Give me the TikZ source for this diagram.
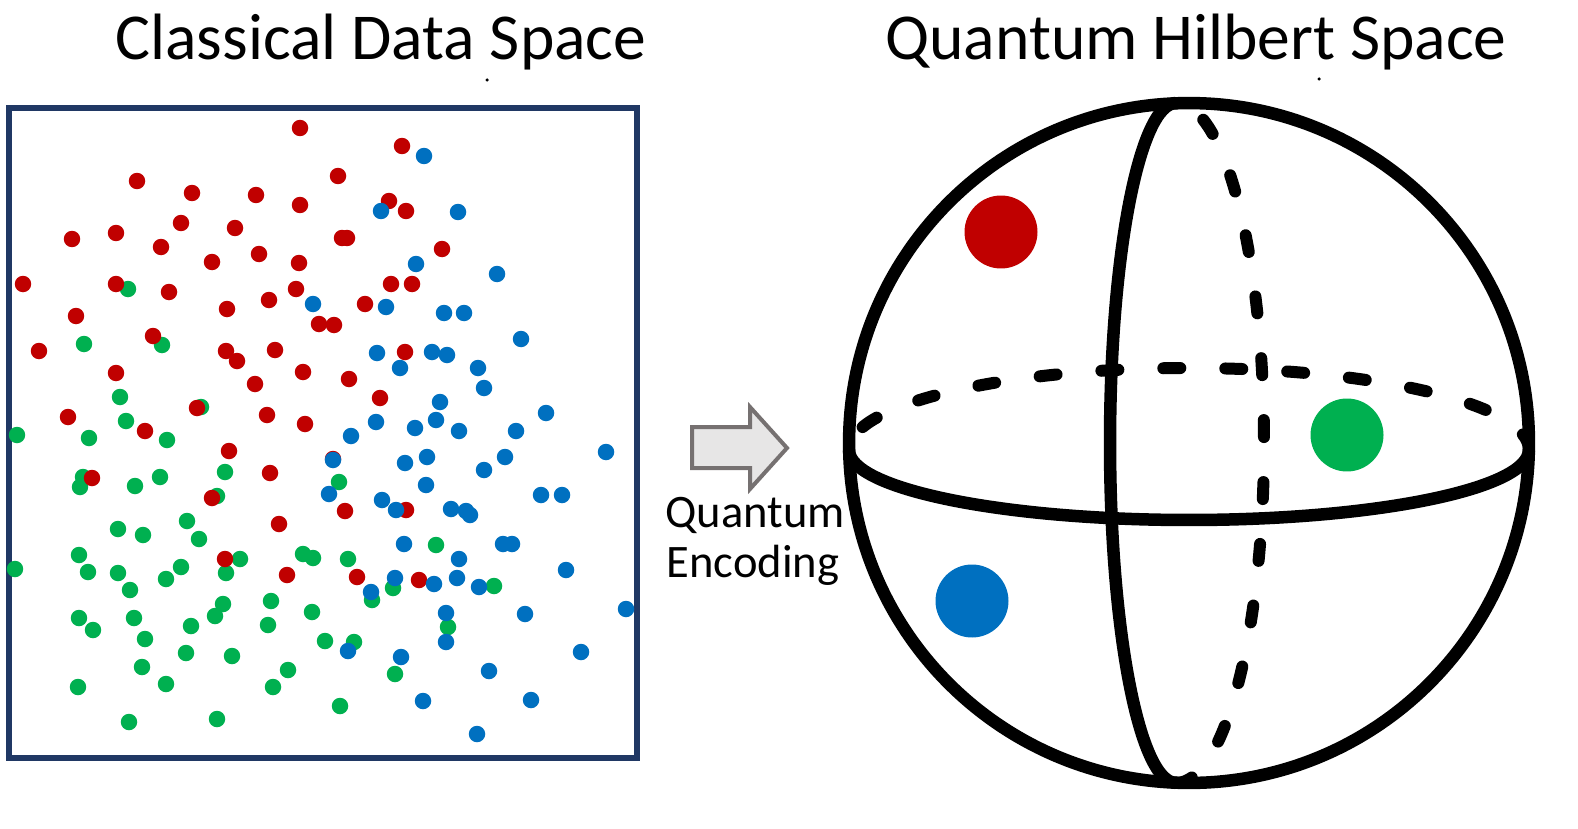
\documentclass[tikz,border=0pt]{standalone}
\usepackage{fontspec}
\setmainfont{Carlito}
\usepackage{tikz}

\definecolor{dotred}{HTML}{C00000}
\definecolor{dotgreen}{HTML}{00B050}
\definecolor{dotblue}{HTML}{0070C0}
\definecolor{boxblue}{HTML}{203864}
\definecolor{arrowgray}{HTML}{767171}
\definecolor{arrowfill}{HTML}{E7E6E6}

\tikzset{
  title/.style={anchor=base,font=\fontsize{37.3}{41}\selectfont},
  label/.style={anchor=base,font=\fontsize{26.5}{30}\selectfont},
  sphereline/.style={line width=0.25cm},
  backline/.style={line width=0.24cm,line cap=round,dash pattern=on 0.34cm off 0.9cm}
}

\begin{document}
\begin{tikzpicture}[x=0.02cm,y=-0.02cm]
\useasboundingbox (0,0) rectangle (1578,828);

\node[title] (classtitle) at (381,60) {Classical Data Space};
\node[title] (quanttitle) at (1196,60) {Quantum Hilbert Space};
\fill (487,80) circle (0.035cm);
\fill (1319,79) circle (0.035cm);

% data space
\draw[boxblue,line width=0.11cm] (9,108) rectangle (637,758);

\foreach \x/\y in {128/289,84/344,162/345,120/397,126/421,201/407,17/435,89/438,167/440,
  83/477,80/487,135/486,160/477,225/472,217/496,187/521,118/529,143/535,199/539,
  79/555,88/572,15/569,118/573,130/590,166/579,181/567,240/559,226/573,303/554,
  313/558,271/601,223/604,215/616,312/612,79/618,93/630,134/618,145/639,191/626,
  268/625,325/641,186/653,232/656,142/667,288/670,78/687,166/684,273/687,129/722,
  217/719,339/482,436/545,348/559,393/588,372/600,494/586,448/627,354/642,395/674,340/706}
  \fill[dotgreen] (\x,\y) circle (0.165cm);

\foreach \x/\y in {300/128,137/181,192/193,256/195,300/205,338/176,181/223,235/228,
  72/239,116/233,161/247,259/254,212/262,299/263,23/284,116/284,169/292,296/289,
  269/300,227/309,319/324,334/325,76/316,39/351,153/336,226/351,237/361,275/350,
  116/373,303/372,255/384,68/417,197/408,267/415,305/424,145/431,402/146,389/201,
  406/211,342/238,347/238,442/249,391/284,412/284,365/304,405/352,349/379,380/398,
  229/451,92/478,270/473,212/498,279/524,225/559,287/575,333/459,406/510,345/511,
  357/577,419/580}
  \fill[dotred] (\x,\y) circle (0.165cm);

\foreach \x/\y in {313/304,424/156,381/211,458/212,416/264,497/274,386/307,444/313,
  464/313,521/339,377/353,432/352,447/355,400/368,478/368,484/388,440/402,546/413,
  376/422,415/428,436/420,459/431,516/431,351/436,606/452,333/460,405/463,427/457,
  505/457,484/470,329/494,426/485,382/500,396/510,451/509,466/511,470/515,541/495,
  562/495,404/544,503/544,512/544,459/559,566/570,395/578,434/584,457/578,479/587,
  371/592,446/613,525/614,626/609,446/642,348/651,401/657,581/652,489/671,423/701,
  531/700,477/734}
  \fill[dotblue] (\x,\y) circle (0.165cm);

% encoding arrow
\filldraw[fill=arrowfill,draw=arrowgray,line width=0.08cm]
  (692,427) -- (750,427) -- (750,407) -- (787,448) -- (750,489) -- (750,468) -- (692,468) -- cycle;
\node[label] (enc1) at (755,527) {Quantum};
\node[label] (enc2) at (753,577) {Encoding};

% hilbert space sphere
\draw[backline] (1529,450) arc[start angle=0,end angle=180,x radius=6.8cm,y radius=1.64cm];
\draw[backline] (1176,783) arc[start angle=270,end angle=450,x radius=1.76cm,y radius=6.8cm];
\draw[sphereline] (1189,443) circle (6.8cm);
\draw[sphereline] (849,450) arc[start angle=180,end angle=360,x radius=6.8cm,y radius=1.4cm];
\draw[sphereline] (1176,103) arc[start angle=90,end angle=270,x radius=1.32cm,y radius=6.8cm];

\fill[dotred] (1001,232) circle (0.73cm);
\fill[dotgreen] (1347,435) circle (0.73cm);
\fill[dotblue] (972,601) circle (0.73cm);

\end{tikzpicture}
\end{document}
